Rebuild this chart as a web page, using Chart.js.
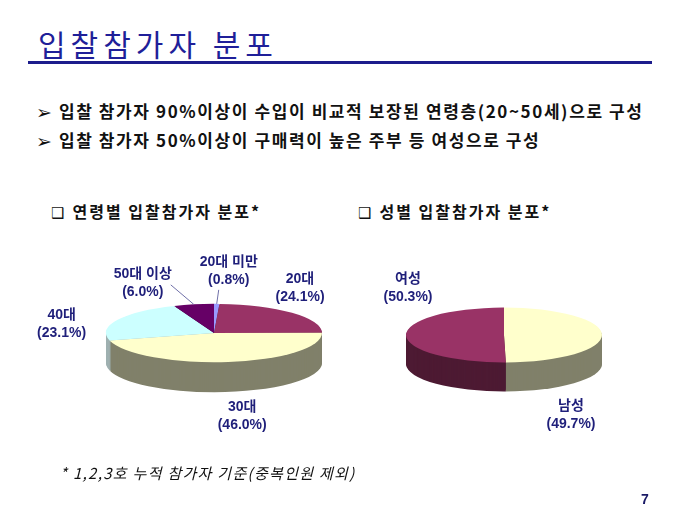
<!DOCTYPE html>
<html>
<head>
<meta charset="utf-8">
<script src="https://cdn.jsdelivr.net/npm/chart.js@4.4.0/dist/chart.umd.min.js"></script>
<style>
body { margin:0; background:#fff; }
#slide { position:relative; width:680px; height:510px; overflow:hidden; font-family:"Noto Sans CJK KR", sans-serif; }
.abs { position:absolute; white-space:nowrap; }
#title { left:38px; top:23px; font-size:30px; letter-spacing:5px; color:#1f1f99; line-height:40px; }
#rule { left:28px; top:61px; width:624px; height:3px; background:#1c1c8c; }
.bullet { left:36px; font-size:17px; font-weight:bold; color:#111; line-height:24px; letter-spacing:1.6px; }
.mk { font-family:"DejaVu Sans"; font-weight:normal; letter-spacing:0; }
.bullet .mk { font-size:19px; margin-right:7px; vertical-align:-1px; }
.sub { font-size:16px; font-weight:bold; color:#111; line-height:24px; letter-spacing:2px; }
.sub .mk { font-size:15px; margin-right:8px; }
#note { left:60px; top:461px; font-size:15px; font-style:italic; color:#111; line-height:24px; letter-spacing:1.3px; }
#page { left:641px; top:487px; font:bold 14px "Liberation Sans"; color:#1a1a66; line-height:24px; }
canvas { position:absolute; top:0; }
</style>
</head>
<body>
<div id="slide">
  <div id="title" class="abs">입찰참가자 분포</div>
  <div id="rule" class="abs"></div>
  <div class="abs bullet" style="top:99px"><span class="mk">➢</span>입찰 참가자 90%이상이 수입이 비교적 보장된 연령층(20~50세)으로 구성</div>
  <div class="abs bullet" style="top:128px"><span class="mk">➢</span>입찰 참가자 50%이상이 구매력이 높은 주부 등 여성으로 구성</div>
  <div class="abs sub" style="left:51px; top:199px"><span class="mk">❑</span>연령별 입찰참가자 분포*</div>
  <div class="abs sub" style="left:358px; top:199px"><span class="mk">❑</span>성별 입찰참가자 분포*</div>
  <canvas id="ageChart" width="340" height="510" style="left:0"></canvas>
  <canvas id="genderChart" width="340" height="510" style="left:340px"></canvas>
  <div id="note" class="abs">* 1,2,3호 누적 참가자 기준(중복인원 제외)</div>
  <div id="page" class="abs">7</div>
</div>
<script>
// data
var ageLabels = ['20대 미만', '20대', '30대', '40대', '50대 이상'];
var ageValues = [0.8, 24.1, 46.0, 23.1, 6.0];

var genderLabels = ['남성', '여성'];
var genderValues = [49.7, 50.3];

// colours (top face / side)
var ageColors = ['#9999ff', '#993366', '#ffffcc', '#ccffff', '#660066'];
var ageSides = ['#4d4d80', '#4d1a33', '#80806a', '#9fb0b0', '#330033'];
var genderColors = ['#ffffcc', '#993366'];
var genderSides = ['#80806a', '#4d1a33'];

function squash(ctx, cx, cy, k) {
  ctx.translate(cx, cy);
  ctx.scale(1, k);
  ctx.translate(-cx, -cy);
}

// fake 3d: flatten the pie and stack darker copies underneath
var pie3d = {
  id: 'pie3d',
  beforeDatasetsDraw: function(chart, args, opts) {
    var ctx = chart.ctx;
    var arcs = chart.getDatasetMeta(0).data;
    var cx = arcs[0].x, cy = arcs[0].y;
    for (var d = opts.depth; d > 0; d--) {
      ctx.save();
      ctx.translate(0, d);
      squash(ctx, cx, cy, opts.tilt);
      arcs.forEach(function(a, i) {
        ctx.beginPath();
        ctx.moveTo(a.x, a.y);
        ctx.arc(a.x, a.y, a.outerRadius, a.startAngle, a.endAngle);
        ctx.closePath();
        ctx.fillStyle = opts.sides[i];
        ctx.fill();
      });
      ctx.restore();
    }
    ctx.save();
    squash(ctx, cx, cy, opts.tilt);
  },
  afterDatasetsDraw: function(chart, args, opts) {
    var ctx = chart.ctx;
    ctx.restore();

    var arcs = chart.getDatasetMeta(0).data;
    var labels = chart.data.labels;
    var values = chart.data.datasets[0].data;
    ctx.save();
    ctx.font = 'bold 14px "Liberation Sans", "Noto Sans CJK KR", sans-serif';
    ctx.fillStyle = '#1f1f7a';
    ctx.textAlign = 'center';
    ctx.textBaseline = 'middle';
    arcs.forEach(function(a, i) {
      var mid = (a.startAngle + a.endAngle) / 2;
      var rx = a.x + a.outerRadius * Math.cos(mid);
      var ry = a.y + a.outerRadius * opts.tilt * Math.sin(mid);
      var off = opts.offsets[i];
      var lx = rx + off[0], ly = ry + off[1];
      if (off[2] !== undefined) {
        ctx.strokeStyle = '#7070a8';
        ctx.lineWidth = 1;
        ctx.beginPath();
        ctx.moveTo(rx, ry);
        ctx.lineTo(lx + off[2], ly + off[3]);
        ctx.stroke();
      }
      ctx.fillText(labels[i], lx, ly - 9);
      ctx.fillText('(' + values[i].toFixed(1) + '%)', lx, ly + 9);
    });
    ctx.restore();
  }
};

function makePie(id, labels, values, colors, sides, pad, tilt, depth, offsets) {
  return new Chart(document.getElementById(id), {
    type: 'pie',
    data: {
      labels: labels,
      datasets: [{
        data: values,
        backgroundColor: colors,
        borderWidth: 0,
        hoverOffset: 0
      }]
    },
    options: {
      responsive: false,
      animation: false,
      events: [],
      layout: { padding: pad },
      plugins: {
        legend: { display: false },
        tooltip: { enabled: false },
        pie3d: { tilt: tilt, depth: depth, sides: sides, offsets: offsets }
      }
    },
    plugins: [pie3d]
  });
}

makePie('ageChart', ageLabels, ageValues, ageColors, ageSides,
  { left: 106, right: 18, top: 225, bottom: 69 }, 0.27, 30,
  [[12, -33, -10, 19], [8, -24.5], [14, 54.5], [-56, 4], [-51, -21.5, 28, 2]]);

makePie('genderChart', genderLabels, genderValues, genderColors, genderSides,
  { left: 66, right: 78, top: 237, bottom: 77 }, 0.28, 29,
  [[-31, 80], [2, -47]]);
</script>
</body>
</html>
